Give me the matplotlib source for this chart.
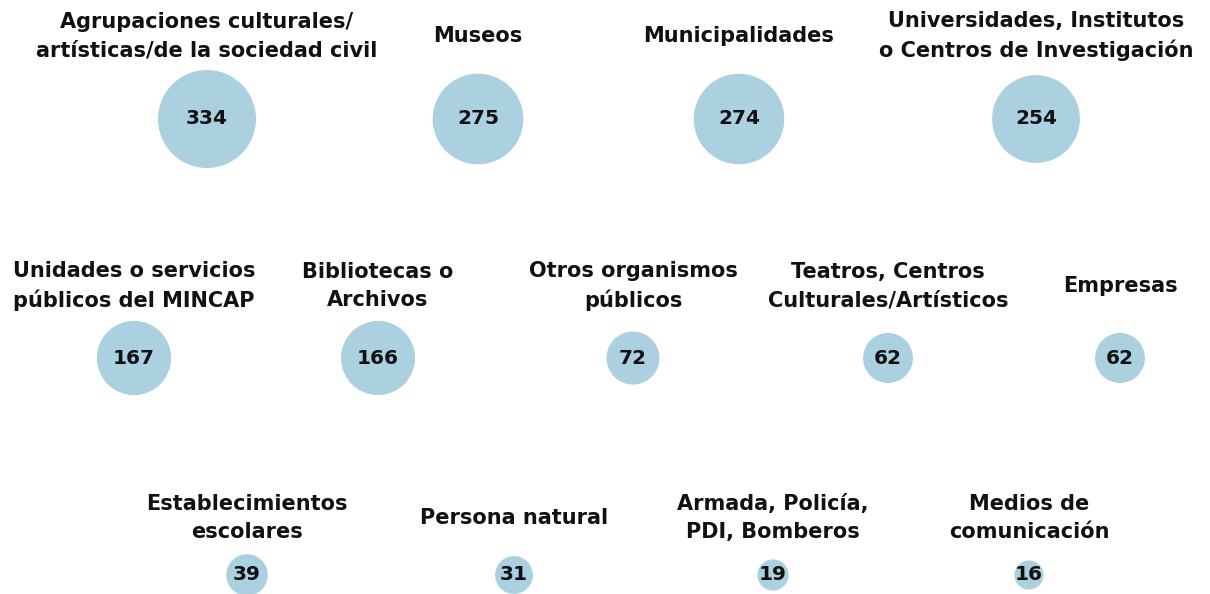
import matplotlib.pyplot as plt

# categories and counts, row by row
row1_labels = ['Agrupaciones culturales/\nartísticas/de la sociedad civil', 'Museos',
               'Municipalidades', 'Universidades, Institutos\no Centros de Investigación']
row1_values = [334, 275, 274, 254]

row2_labels = ['Unidades o servicios\npúblicos del MINCAP', 'Bibliotecas o\nArchivos',
               'Otros organismos\npúblicos', 'Teatros, Centros\nCulturales/Artísticos', 'Empresas']
row2_values = [167, 166, 72, 62, 62]

row3_labels = ['Establecimientos\nescolares', 'Persona natural',
               'Armada, Policía,\nPDI, Bomberos', 'Medios de\ncomunicación']
row3_values = [39, 31, 19, 16]

# layout (pixel coordinates of the 1210x594 canvas)
row1_x = [207, 478, 739, 1036]
row2_x = [134, 378, 633, 888, 1120]
row3_x = [247, 514, 773, 1029]
row_y = [119, 358, 575]
label_y = [36, 286, 518]

color = '#abd0e0'
font = 'DejaVu Sans'
dpi = 100

fig = plt.figure(figsize=(12.1, 5.94), dpi=dpi)
ax = fig.add_axes([0, 0, 1, 1])
ax.set_xlim(0, 1210)
ax.set_ylim(594, 0)
ax.axis('off')

vmax = max(row1_values)


def bubble_size(v):
    d_px = 98 * (v / vmax) ** 0.4
    return (d_px * 72 / dpi) ** 2


rows = [(row1_labels, row1_values, row1_x), (row2_labels, row2_values, row2_x),
        (row3_labels, row3_values, row3_x)]
for i, (labels, values, xs) in enumerate(rows):
    ax.scatter(xs, [row_y[i]] * len(xs), s=[bubble_size(v) for v in values],
               color=color, linewidths=0, clip_on=False)
    for x, lab, v in zip(xs, labels, values):
        ax.text(x, row_y[i], str(v), ha='center', va='center', fontsize=14.5,
                fontweight='bold', family=font, color='#111111')
        ax.text(x, label_y[i], lab, ha='center', va='center', fontsize=15,
                fontweight='bold', family=font, color='#111111', linespacing=1.5)

fig.savefig('out.png', dpi=dpi)
